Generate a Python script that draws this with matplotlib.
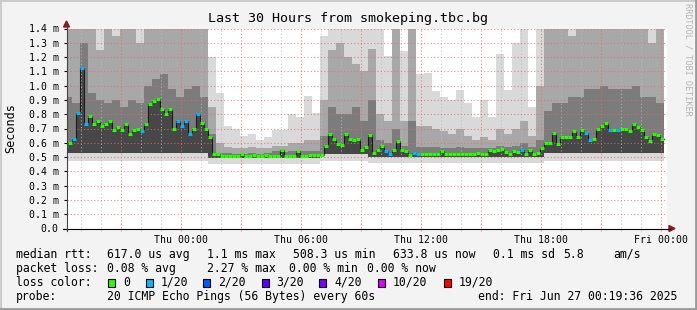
import matplotlib
matplotlib.use('Agg')
import matplotlib.pyplot as plt
import numpy as np
from matplotlib.lines import Line2D
from matplotlib.patches import Rectangle, Polygon

W, H = 697, 310
MONO = 'DejaVu Sans Mono'

# median rtt (ms), one value per 12 minute step, starting Wed 18:10
median = [0.58, 0.60, 0.63, 0.81, 1.12, 0.73, 0.79, 0.73, 0.75, 0.72,
          0.73, 0.75, 0.69, 0.71, 0.69, 0.73, 0.66, 0.69, 0.70, 0.68,
          0.73, 0.87, 0.89, 0.905, 0.84, 0.80, 0.84, 0.70, 0.75, 0.72,
          0.75, 0.66, 0.70, 0.80, 0.74, 0.695, 0.64, 0.52, 0.52, 0.51,
          0.51, 0.51, 0.507, 0.507, 0.52, 0.51, 0.51, 0.515, 0.51, 0.51,
          0.515, 0.51, 0.51, 0.51, 0.55, 0.51, 0.51, 0.51, 0.54, 0.51,
          0.51, 0.515, 0.515, 0.515, 0.515, 0.58, 0.66, 0.63, 0.59, 0.585,
          0.66, 0.63, 0.62, 0.63, 0.55, 0.57, 0.655, 0.53, 0.55, 0.575,
          0.545, 0.52, 0.55, 0.61, 0.55, 0.545, 0.515, 0.53, 0.525, 0.525,
          0.525, 0.525, 0.525, 0.525, 0.545, 0.52, 0.52, 0.525, 0.52, 0.52,
          0.52, 0.52, 0.52, 0.53, 0.52, 0.525, 0.55, 0.54, 0.55, 0.555,
          0.535, 0.52, 0.545, 0.535, 0.55, 0.52, 0.55, 0.52, 0.53, 0.565,
          0.60, 0.60, 0.67, 0.59, 0.64, 0.64, 0.64, 0.68, 0.64, 0.69,
          0.67, 0.62, 0.63, 0.70, 0.72, 0.74, 0.69, 0.69, 0.69, 0.70,
          0.70, 0.68, 0.73, 0.71, 0.69, 0.64, 0.61, 0.66, 0.655, 0.63]

# lost pings (of 20) per step
loss = [1, 0, 1, 1, 1, 1, 0, 0, 0, 0, 0, 0, 0, 0, 0, 0, 0, 0, 0, 1,
        0, 0, 0, 0, 0, 0, 0, 0, 1, 1, 1, 1, 0, 1, 0, 0, 0, 0, 0, 0,
        0, 0, 0, 0, 0, 0, 0, 0, 0, 0, 0, 0, 0, 0, 0, 0, 0, 0, 0, 0,
        0, 0, 0, 0, 0, 0, 0, 0, 0, 0, 0, 0, 0, 0, 0, 0, 0, 0, 0, 0,
        1, 1, 0, 0, 0, 0, 0, 1, 1, 0, 0, 0, 0, 0, 0, 0, 0, 0, 0, 0,
        0, 0, 0, 0, 0, 0, 0, 0, 0, 0, 0, 0, 0, 0, 1, 0, 0, 0, 0, 0,
        0, 0, 0, 0, 0, 0, 0, 0, 0, 0, 1, 1, 0, 0, 0, 0, 1, 0, 1, 0,
        0, 0, 0, 0, 0, 0, 0, 0, 0, 0]

# smoke (ms), one value per 24 minute step
smoke_min = [0.47] * 18 + [0.45] * 14 + [0.47] * 6 + [0.46] * 22 + [0.47] * 15
smoke_lo = [0.53] * 18 + [0.495] * 14 + [0.52] * 6 + [0.50] * 22 + [0.53] * 15
smoke_core = [0.92, 0.88, 1.30, 0.95, 0.90, 0.88, 0.90, 0.85, 0.90, 0.88,
              1.00, 1.05, 1.08, 0.98, 0.92, 0.98, 1.00, 0.92, 0.66, 0.53,
              0.53, 0.525, 0.525, 0.53, 0.525, 0.53, 0.54, 0.535, 0.54, 0.54,
              0.54, 0.54, 0.65, 0.85, 0.80, 0.80, 0.85, 0.75, 0.90, 0.62,
              0.60, 0.70, 0.58, 0.75, 0.57, 0.57, 0.57, 0.56, 0.56, 0.57,
              0.56, 0.56, 0.56, 0.56, 0.58, 0.57, 0.58, 0.60, 0.57, 0.62,
              0.82, 0.88, 0.88, 0.92, 0.92, 0.98, 0.98, 1.00, 0.98, 0.98,
              0.98, 1.00, 0.92, 0.92, 0.88]
smoke_hi = [1.60, 1.45, 1.60, 1.50, 1.25, 1.45, 1.35, 1.60, 1.45, 1.30,
            1.50, 1.40, 1.60, 1.60, 1.55, 1.45, 1.60, 1.60, 0.85, 0.60,
            0.57, 0.56, 0.56, 0.57, 0.56, 0.56, 0.58, 0.58, 0.60, 0.60,
            0.62, 0.62, 0.90, 1.25, 1.30, 1.20, 1.15, 1.10, 1.26, 0.80,
            0.75, 1.50, 0.75, 1.50, 0.72, 0.72, 0.70, 0.68, 0.66, 0.70,
            0.65, 0.62, 0.64, 0.62, 0.70, 0.66, 0.70, 0.75, 0.65, 1.00,
            1.50, 1.45, 1.60, 1.35, 1.50, 1.60, 1.45, 1.60, 1.50, 1.60,
            1.40, 1.60, 1.45, 1.30, 1.60]
smoke_top = [1.6] * 18 + [1.20, 0.95, 0.72, 0.70, 0.65, 0.66, 0.62, 0.64,
                          0.69, 0.69, 0.80, 0.78, 0.93, 0.81, 1.35] + \
            [1.6] * 5 + [1.45, 1.45, 1.21, 1.50, 1.24, 1.50, 1.08, 1.09,
                         0.96, 0.92, 0.90, 0.97, 0.88, 0.78, 0.90, 0.78,
                         1.22, 0.97, 1.30, 1.45, 0.85, 1.40] + [1.6] * 15

xticks = [0, 6, 12, 18, 24]
xlabels = ['Thu 00:00', 'Thu 06:00', 'Thu 12:00', 'Thu 18:00', 'Fri 00:00']
yticks = np.arange(0, 15) / 10
loss_colors = {0: '#26ff00', 1: '#00b8ff'}


def fx(x):
    return x / W


def fy(y):
    return 1 - y / H


fig = plt.figure(figsize=(W / 100, H / 100), dpi=100, facecolor='#f3f3f3')
ax = fig.add_axes([fx(66.5), fy(228.5), 600 / W, 200 / H], facecolor='white')

t0 = -5.825
med_edges = t0 + 0.2 * np.arange(len(median) + 1)
smk_edges = t0 + 0.4 * np.arange(len(smoke_top) + 1)


def band(edges, lo, hi, color, z):
    lo = np.append(lo, lo[-1])
    hi = np.append(hi, hi[-1])
    ax.fill_between(edges, lo, hi, step='post', color=color, lw=0, zorder=z)


band(smk_edges, smoke_min, smoke_top, '#d9d9d9', 1)
band(smk_edges, smoke_lo, smoke_hi, '#a8a8a8', 1.1)
band(smk_edges, smoke_lo, smoke_core, '#7c7c7c', 1.2)
band(med_edges, np.repeat(smoke_lo, 2), median, '#474747', 1.3)

# grid on top of the smoke
for h in range(-5, 25):
    major = h % 3 == 0
    ax.axvline(h, ymin=-0.012, ymax=1, color='#e07070' if major else '#bdbdbd',
               lw=0.8, ls=(0, (1, 2)), zorder=2, clip_on=False, alpha=0.8)
for v in yticks[1:]:
    ax.axhline(v, color='#e07070', lw=0.8, ls=(0, (1, 2)), zorder=2, alpha=0.8)

ax.step(med_edges, np.append(median, median[-1]), where='post',
        color='#1a1a1a', lw=0.8, zorder=3)
ax.hlines(median, med_edges[:-1], med_edges[1:],
          colors=[loss_colors[l] for l in loss], lw=2.2, zorder=4)

ax.set_xlim(-5.7, 24.3)
ax.set_ylim(0, 1.4)
for s in ax.spines.values():
    s.set_visible(False)
ax.set_xticks(xticks)
ax.set_xticklabels(xlabels, family=MONO, fontsize=7.1)
ax.set_yticks(yticks)
ax.set_yticklabels(['0.0'] + ['%.1f m' % v for v in yticks[1:]], family=MONO, fontsize=7.1)
ax.tick_params(axis='x', length=0, pad=4.5)
ax.tick_params(axis='y', length=2.5, width=0.8, pad=3)

# axes with arrows
fig.add_artist(Line2D([fx(63), fx(670)], [fy(228.5), fy(228.5)], color='black', lw=0.8))
fig.add_artist(Line2D([fx(66.5), fx(66.5)], [fy(231), fy(25)], color='#444444', lw=0.8))
fig.add_artist(Polygon([[fx(669), fy(225.5)], [fx(669), fy(231.5)], [fx(675), fy(228.5)]],
                       closed=True, color='#8b1a1a'))
fig.add_artist(Polygon([[fx(63.5), fy(27)], [fx(69.5), fy(27)], [fx(66.5), fy(21)]],
                       closed=True, color='#8b1a1a'))

fig.text(fx(348), fy(18.5), 'Last 30 Hours from smokeping.tbc.bg', family=MONO,
         fontsize=9.6, ha='center', va='center')
fig.text(fx(10.5), fy(128.5), 'Seconds', family=MONO, fontsize=8.5,
         rotation=90, ha='center', va='center')
fig.text(fx(688), fy(3), 'RRDTOOL / TOBI OETIKER', family=MONO, fontsize=6.1,
         rotation=-90, ha='center', va='top', color='#b4b4b4')

# legend
leg = 8.3
rows = [
    (254.3, [(16, 'median rtt:'), (107.3, '617.0 us avg'), (207.3, '1.1 ms max'),
             (293.3, '508.3 us min'), (393, '633.8 us now'), (493, '0.1 ms sd'),
             (563, '5.8'), (613.7, 'am/s')]),
    (268.3, [(16, 'packet loss:'), (107.3, '0.08 % avg'), (207.3, '2.27 % max'),
             (289, '0.00 % min'), (367, '0.00 % now')]),
    (282.3, [(16, 'loss color:')]),
    (296.3, [(16, 'probe:'), (107.3, '20 ICMP Echo Pings (56 Bytes) every 60s'),
             (478, 'end: Fri Jun 27 00:19:36 2025')]),
]
for y, items in rows:
    for x, s in items:
        fig.text(fx(x), fy(y), s, family=MONO, fontsize=leg, ha='left', va='center')

box_x = [108.3, 145.7, 203.3, 261.7, 319.3, 377.7, 443.7]
box_lab = ['0', '1/20', '2/20', '3/20', '4/20', '10/20', '19/20']
box_col = ['#26ff00', '#00b8ff', '#0059ff', '#5e00ff', '#7e00ff', '#dd00ff', '#ff0000']
for x, lab, c in zip(box_x, box_lab, box_col):
    fig.add_artist(Rectangle((fx(x), fy(286.5)), 7 / W, 7.5 / H, facecolor=c,
                             edgecolor='black', lw=0.8))
    fig.text(fx(x + 15), fy(282.3), lab, family=MONO, fontsize=leg, ha='left', va='center')

# frame
fig.add_artist(Line2D([0, 1], [fy(0.5), fy(0.5)], color='#cccccc', lw=1.5))
fig.add_artist(Line2D([fx(0.5), fx(0.5)], [0, 1], color='#cccccc', lw=1.5))
fig.add_artist(Line2D([0, 1], [fy(309), fy(309)], color='#9a9a9a', lw=2))
fig.add_artist(Line2D([fx(696), fx(696)], [0, 1], color='#9a9a9a', lw=2))

fig.savefig('out.png', dpi=100, facecolor=fig.get_facecolor())
